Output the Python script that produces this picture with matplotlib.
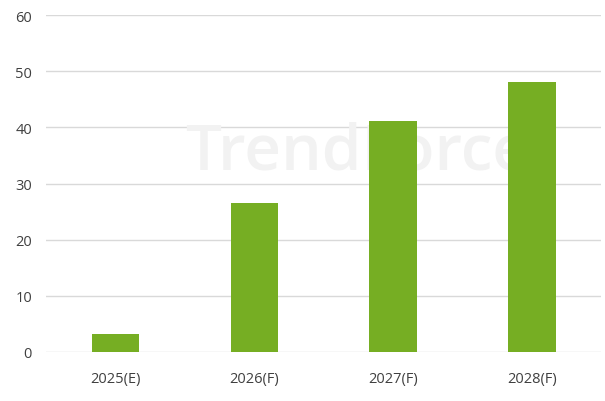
import matplotlib
matplotlib.use("Agg")
import matplotlib.pyplot as plt

# --- Dados ---
categorias = ["2025(E)", "2026(F)", "2027(F)", "2028(F)"]
valores = [3.2, 26.6, 41.2, 48.1]
y_ticks = [0, 10, 20, 30, 40, 50, 60]

plt.rcParams['font.family'] = ['Open Sans', 'DejaVu Sans']

fig = plt.figure(figsize=(6.05, 4.02), dpi=100)
ax = fig.add_axes([0.076, 0.122, 0.918, 0.838])

# marca d'agua (atras das barras)
ax.text(0.56, 0.595, "TrendForce", transform=ax.transAxes, fontsize=46,
        fontweight='semibold', color='#f2f2f2', ha='center', va='center', zorder=1)

x = range(len(categorias))
ax.bar(x, valores, width=0.34, color='#76ae23', zorder=3)

ax.set_ylim(0, 60)
ax.set_xlim(-0.5, len(categorias) - 0.5)
ax.set_yticks(y_ticks)
ax.set_xticks(list(x))
ax.set_xticklabels(categorias)
ax.yaxis.grid(True, color='#d9d9d9', linewidth=1, zorder=0)
ax.set_axisbelow(True)
ax.tick_params(length=0, labelsize=10.5, labelcolor='#404040', pad=14)
ax.tick_params(axis='y', pad=10)
for s in ax.spines.values():
    s.set_visible(False)

fig.savefig("out.png", dpi=100)
